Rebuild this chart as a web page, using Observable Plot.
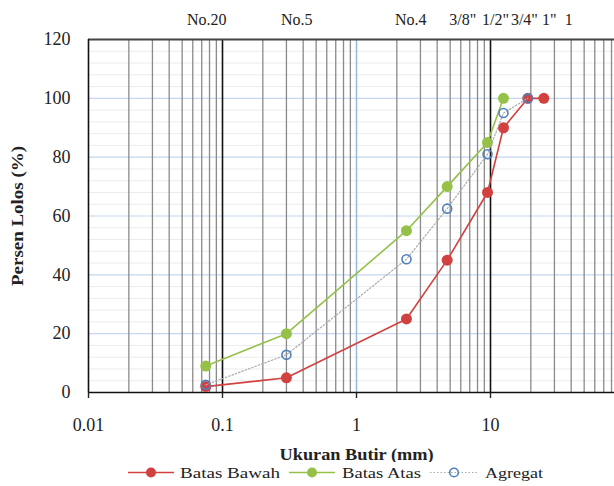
<!DOCTYPE html>
<html><head><meta charset="utf-8">
<script src="https://cdn.jsdelivr.net/npm/d3@7"></script>
<script src="https://cdn.jsdelivr.net/npm/@observablehq/plot@0.6"></script>
<style>
html,body{margin:0;padding:0;background:#fff;overflow:hidden;width:614px;height:486px}
#chart svg{overflow:hidden;display:block}
#legend svg{display:block}
</style></head><body><div id="chart"></div><div id="legend"></div>
<script>
// ---- data ----
const bawahSizes = [0.075, 0.3, 2.36, 4.75, 9.5, 12.5, 19, 25];
const batasBawah = [2, 5, 25, 45, 68, 90, 100, 100];
const atasSizes = [0.075, 0.3, 2.36, 4.75, 9.5, 12.5];
const batasAtas = [9, 20, 55, 70, 85, 100];
const agregatSizes = [0.075, 0.3, 2.36, 4.75, 9.5, 12.5, 19];
const agregat = [2.6, 12.8, 45.3, 62.5, 81, 95, 100];
const topLabels = ["No.20", "No.5", "No.4", "3/8\"", "1/2\"", "3/4\"", "1\"", "1"];
const topLabelPos = [0.0764, 0.358, 2.54, 6.2, 10.9, 17.9, 27.5, 38.4];
const xTicks = [0.01, 0.1, 1, 10];
const xTickLabels = ["0.01", "0.1", "1", "10"];
const yTicks = [0, 20, 40, 60, 80, 100, 120];
const yMajorGrid = [20, 40, 60, 80, 100];
const yMinorGrid = [4, 8, 12, 16, 24, 28, 32, 36, 44, 48, 52, 56, 64, 68, 72, 76, 84, 88, 92, 96, 104, 108, 112, 116];
const xMinorGrid = [0.02, 0.03, 0.04, 0.05, 0.06, 0.07, 0.08, 0.09,
  0.2, 0.3, 0.4, 0.5, 0.6, 0.7, 0.8, 0.9,
  2, 3, 4, 5, 6, 7, 8, 9,
  20, 30, 40, 50, 60, 70, 80, 90];
const seriesNames = ["Batas Bawah", "Batas Atas", "Agregat"];

const RED = "#d0413f", GREEN = "#95c149", BLUE = "#4f81bd";

const bawah = bawahSizes.map((s, i) => ({size: s, pct: batasBawah[i]}));
const atas = atasSizes.map((s, i) => ({size: s, pct: batasAtas[i]}));
const agr = agregatSizes.map((s, i) => ({size: s, pct: agregat[i]}));

const plot = Plot.plot({
  width: 614, height: 462,
  marginLeft: 88, marginRight: -10, marginTop: 39, marginBottom: 70,
  style: {fontFamily: "'Liberation Serif', 'Times New Roman', serif", fontSize: "18px", color: "#222", background: "#fff", overflow: "hidden"},
  x: {type: "log", domain: [0.01, 100]},
  y: {domain: [0, 120]},
  marks: [
    Plot.ruleY(yMinorGrid, {stroke: "#ececec", strokeWidth: 1}),
    Plot.ruleY(yMajorGrid, {stroke: "#c5d6ee", strokeWidth: 1.2}),
    Plot.ruleX(xMinorGrid, {stroke: "#8a8a8a", strokeWidth: 1.3}),
    Plot.ruleX([0.1, 10], {stroke: "#111", strokeWidth: 1.6}),
    Plot.ruleX([1], {stroke: "#9ab7dd", strokeWidth: 1.5}),
    Plot.ruleY([120], {stroke: "#444", strokeWidth: 2.2}),
    Plot.ruleY([0], {stroke: "#111", strokeWidth: 1.6}),
    Plot.ruleX([0.01], {stroke: "#111", strokeWidth: 1.6}),
    Plot.axisX(xTicks, {
      tickFormat: d => xTickLabels[xTicks.indexOf(d)],
      tickSize: 6, tickPadding: 20, strokeWidth: 1.4,
      label: "Ukuran Butir (mm)", labelAnchor: "center", labelArrow: "none", labelOffset: 67
    }),
    Plot.axisY(yTicks, {
      tickSize: 0, tickPadding: 18,
      label: "Persen Lolos (%)", labelAnchor: "center", labelArrow: "none", labelOffset: 78
    }),
    Plot.line(bawah, {x: "size", y: "pct", stroke: RED, strokeWidth: 1.6}),
    Plot.dot(bawah, {x: "size", y: "pct", r: 5.5, fill: RED}),
    Plot.line(atas, {x: "size", y: "pct", stroke: GREEN, strokeWidth: 1.6}),
    Plot.dot(atas, {x: "size", y: "pct", r: 5.5, fill: GREEN}),
    Plot.line(agr, {x: "size", y: "pct", stroke: "#aaaaaa", strokeWidth: 1.2, strokeDasharray: "1.5,2"}),
    Plot.dot(agr, {x: "size", y: "pct", r: 4.5, fill: "none", stroke: BLUE, strokeWidth: 1.6}),
    Plot.text(topLabels, {x: (d, i) => topLabelPos[i], text: d => d, frameAnchor: "top", dy: -26, fontSize: 16, fill: "#222"})
  ]
});
document.getElementById("chart").appendChild(plot);

const xl = plot.querySelector('g[aria-label="x-axis label"] text');
if (xl) { xl.setAttribute("font-weight", "bold"); xl.setAttribute("font-size", "16px"); xl.setAttribute("textLength", 154); xl.setAttribute("lengthAdjust", "spacingAndGlyphs"); }
const yl = plot.querySelector('g[aria-label="y-axis label"] text');
if (yl) { yl.setAttribute("font-weight", "bold"); yl.setAttribute("font-size", "17px"); yl.setAttribute("textLength", 140); yl.setAttribute("lengthAdjust", "spacingAndGlyphs"); }

// ---- legend (below the SVG) ----
const ns = "http://www.w3.org/2000/svg";
const lg = document.createElementNS(ns, "svg");
lg.setAttribute("width", 614); lg.setAttribute("height", 24);
document.getElementById("legend").appendChild(lg);
function el(tag, attrs) { const e = document.createElementNS(ns, tag); for (const k in attrs) e.setAttribute(k, attrs[k]); lg.appendChild(e); return e; }
const items = [
  {x0: 128, x1: 174, tx: 180, w: 100, stroke: RED, dash: null, marker: "fill", color: RED},
  {x0: 289, x1: 335, tx: 342, w: 79, stroke: GREEN, dash: null, marker: "fill", color: GREEN},
  {x0: 430, x1: 478, tx: 485, w: 58, stroke: "#aaaaaa", dash: "1.5,2", marker: "open", color: BLUE}
];
items.forEach((it, i) => {
  const cy = 10.5;
  const ln = el("line", {x1: it.x0, x2: it.x1, y1: cy, y2: cy, stroke: it.stroke, "stroke-width": it.dash ? 1.2 : 1.6});
  if (it.dash) ln.setAttribute("stroke-dasharray", it.dash);
  const cx = (it.x0 + it.x1) / 2;
  if (it.marker === "fill") el("circle", {cx, cy, r: 5, fill: it.color});
  else el("circle", {cx, cy, r: 4.3, fill: "none", stroke: it.color, "stroke-width": 1.6});
  const t = el("text", {x: it.tx, y: cy + 5, "font-family": "'Liberation Serif', serif", "font-size": "14.5px", fill: "#222",
    textLength: it.w, lengthAdjust: "spacingAndGlyphs"});
  t.textContent = seriesNames[i];
});
</script>
</body></html>
